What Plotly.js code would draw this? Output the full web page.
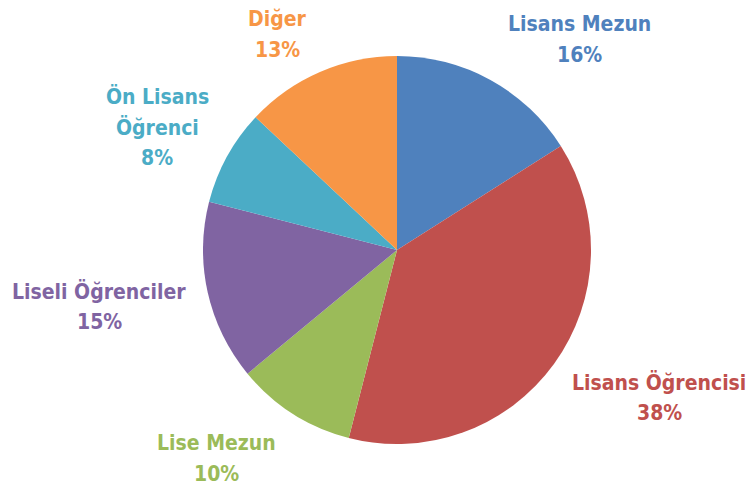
<!DOCTYPE html>
<html>
<head>
<meta charset="utf-8">
<script src="https://cdn.plot.ly/plotly-3.0.1.min.js"></script>
<style>html,body{margin:0;padding:0;background:#fff;}#chart{width:751px;height:491px;}</style>
</head>
<body>
<div id="chart"></div>
<script>
const categories = ["Lisans Mezun", "Lisans Öğrencisi", "Lise Mezun", "Liseli Öğrenciler", "Ön Lisans Öğrenci", "Diğer"];
const values = [16, 38, 10, 15, 8, 13];
const labelLines = [["Lisans Mezun"], ["Lisans Öğrencisi"], ["Lise Mezun"], ["Liseli Öğrenciler"], ["Ön Lisans", "Öğrenci"], ["Diğer"]];
const colors = ["#4F81BD", "#C0504D", "#9BBB59", "#8064A2", "#4BACC6", "#F79646"];

const W = 751, H = 491;
// label block position in pixels: centre x, first-line centre y (layout only)
const labelPos = [[579, 24], [659, 382], [217, 443], [99, 291], [157, 96], [277, 19]];
const lineGap = 31;

const annotations = [];
categories.forEach((c, i) => {
  const lines = labelLines[i].concat([values[i] + '%']);
  lines.forEach((t, j) => {
    annotations.push({
      xref: 'paper', yref: 'paper',
      x: labelPos[i][0] / W, y: 1 - (labelPos[i][1] + j * lineGap) / H,
      xanchor: 'center', yanchor: 'middle',
      text: t, showarrow: false,
      font: {family: 'DejaVu Sans Condensed, DejaVu Sans', size: 21, color: colors[i], weight: 'bold'}
    });
  });
});

const cx = 397, cy = 250, r = 194;
const trace = {
  type: 'pie',
  labels: categories,
  values: values,
  sort: false,
  direction: 'clockwise',
  rotation: 0,
  textinfo: 'none',
  hoverinfo: 'label+percent',
  marker: {colors: colors, line: {width: 0}},
  domain: {x: [(cx - r) / W, (cx + r) / W], y: [1 - (cy + r) / H, 1 - (cy - r) / H]}
};

Plotly.newPlot('chart', [trace], {
  width: W, height: H,
  margin: {l: 0, r: 0, t: 0, b: 0},
  showlegend: false,
  paper_bgcolor: '#fff',
  annotations: annotations
}, {displayModeBar: false, staticPlot: true});
</script>
</body>
</html>
